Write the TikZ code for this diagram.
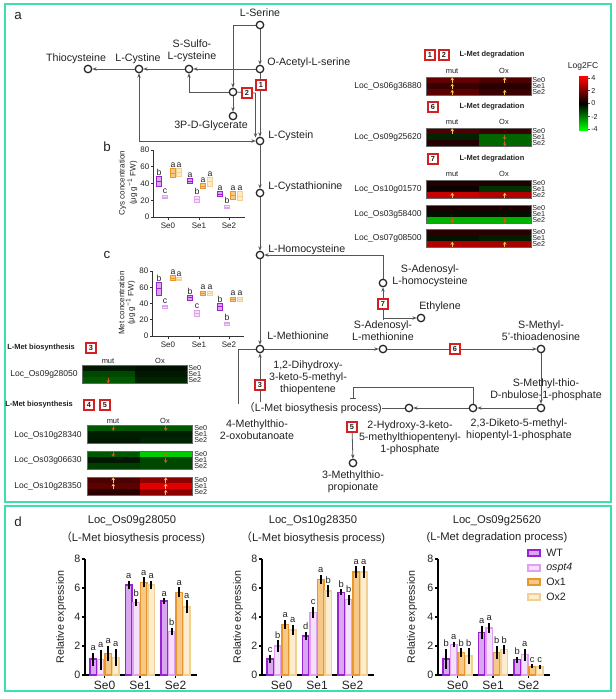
\documentclass[tikz,border=0pt]{standalone}
\usepackage{fontspec}
\setmainfont{Liberation Sans}
\newfontfamily\cjkfont{Noto Sans CJK SC}
\usetikzlibrary{arrows.meta}
\definecolor{frameC}{HTML}{3EDFA8}
\definecolor{wtD}{HTML}{9A22D2}
\definecolor{wtF}{HTML}{D9A6F2}
\definecolor{spD}{HTML}{E0A2F0}
\definecolor{spF}{HTML}{F5E0FB}
\definecolor{oaD}{HTML}{E8962E}
\definecolor{oaF}{HTML}{F7C886}
\definecolor{obD}{HTML}{F2D08F}
\definecolor{obF}{HTML}{FCEDD0}
\definecolor{numC}{HTML}{D42020}
\definecolor{hmUp}{HTML}{F5C850}
\definecolor{hmDn}{HTML}{D4581A}
\definecolor{lineC}{HTML}{555555}
\definecolor{txtC}{HTML}{222222}
\tikzset{
  frame/.style={draw=frameC, line width=1.9pt},
  plabel/.style={font=\fontsize{10}{12}\selectfont, text=txtC, inner sep=0pt},
  met/.style={circle, draw=black!85, line width=0.95pt, minimum size=5.6pt, inner sep=0pt},
  lbl/.style={font=\fontsize{8}{9}\selectfont, text=txtC, inner sep=0pt, align=center},
  conn/.style={draw=lineC, line width=0.6pt},
  arr/.style={conn, -{Stealth[length=3.2pt,width=2.6pt]}},
  arrtwo/.style={conn, {Stealth[length=3.2pt,width=2.6pt]}-{Stealth[length=3.2pt,width=2.6pt]}},
  barend/.style={conn, -{Bar[width=4pt]}},
  num/.style={draw=numC, line width=0.8pt, fill=white, minimum size=7.5pt, inner sep=0pt, font=\fontsize{5.5}{6}\selectfont\bfseries, text=txtC},
  htitle/.style={font=\fontsize{5.6}{6}\selectfont\bfseries, text=txtC, inner sep=0pt},
  hlab/.style={font=\fontsize{6.4}{7}\selectfont, text=txtC, inner sep=0pt},
  hrow/.style={font=\fontsize{5.4}{6}\selectfont, text=txtC, inner sep=0pt},
  hcol/.style={font=\fontsize{5.6}{6}\selectfont, text=txtC, inner sep=0pt},
  hmedge/.style={draw=black!60, line width=0.3pt},
  hua/.style={draw=hmUp, line width=0.65pt, -{Stealth[length=2.2pt,width=2.8pt]}},
  hda/.style={draw=hmDn, line width=0.65pt, -{Stealth[length=2.2pt,width=2.8pt]}},
  saxis/.style={draw=black!80, line width=0.6pt},
  stick/.style={font=\fontsize{6}{7}\selectfont, text=txtC, inner sep=0pt},
  slet/.style={font=\fontsize{6.5}{7}\selectfont, text=txtC, inner sep=0pt},
  daxis/.style={draw=black, line width=0.9pt},
  dtick/.style={font=\fontsize{8}{9}\selectfont, text=txtC, inner sep=0pt},
  dse/.style={font=\fontsize{9}{10}\selectfont, text=txtC, inner sep=0pt},
  dlet/.style={font=\fontsize{7}{8}\selectfont, text=txtC, inner sep=0.5pt},
  dtitle/.style={font=\fontsize{8.4}{10}\selectfont, text=txtC, inner sep=0pt},
  ebar/.style={draw=black, line width=1.2pt},
  bWT/.style={draw=wtD, fill=wtF, line width=1pt},
  bSP/.style={draw=spD, fill=spF, line width=1pt},
  bOA/.style={draw=oaD, fill=oaF, line width=1pt},
  bOB/.style={draw=obD, fill=obF, line width=1pt},
}
\newcommand{\hmap}[8]{%
  \fill[#3] (#1,#2) rectangle (#1+52.5,#2+6.2);
  \fill[#4] (#1+52.5,#2) rectangle (#1+105,#2+6.2);
  \fill[#5] (#1,#2+6.2) rectangle (#1+52.5,#2+12.4);
  \fill[#6] (#1+52.5,#2+6.2) rectangle (#1+105,#2+12.4);
  \fill[#7] (#1,#2+12.4) rectangle (#1+52.5,#2+18.6);
  \fill[#8] (#1+52.5,#2+12.4) rectangle (#1+105,#2+18.6);
  \draw[hmedge] (#1,#2) rectangle (#1+105,#2+18.6);
  \def\hx{#1}\def\hy{#2}}
\newcommand{\hrows}[3]{%
  \node[hrow, anchor=west] (#3r0) at (#1,#2+2.6) {Se0};
  \node[hrow, anchor=west] (#3r1) at (#1,#2+8.8) {Se1};
  \node[hrow, anchor=west] (#3r2) at (#1,#2+15) {Se2};}
\newcommand{\hu}[2]{\draw[hua] (\hx+26.25+52.5*#1,\hy+5.8+6.2*#2) -- (\hx+26.25+52.5*#1,\hy+0.4+6.2*#2);}
\newcommand{\hd}[2]{\draw[hda] (\hx+26.25+52.5*#1,\hy+0.4+6.2*#2) -- (\hx+26.25+52.5*#1,\hy+5.8+6.2*#2);}
\newcommand{\dbar}[6]{%
  \pgfmathsetmacro\yt{675-14.5*#2}%
  \pgfmathsetmacro\ya{675-14.5*(#2+#3)}%
  \pgfmathsetmacro\yb{675-14.5*(#2-#3)}%
  \filldraw[#4] (#1-3.3,675) rectangle (#1+3.3,\yt);
  \draw[ebar] (#1,\yb) -- (#1,\ya);
  \node[dlet, anchor=south] (#6) at (#1,\ya-1) {#5};}
\newcommand{\daxes}[3]{%
  \draw[daxis] (#1,559) -- (#1,675) -- (#1+112,675);
  \foreach \v in {0,2,4,6,8} {\pgfmathsetmacro\yy{675-14.5*\v}
    \draw[daxis] (#1,\yy) -- (#1-3,\yy);
    \node[dtick, anchor=east] (#2t\v) at (#1-4.5,\yy) {\v};}
  \foreach \o/\t in {19.5/Se0,55/Se1,90.5/Se2} {
    \draw[daxis] (#1+\o,675) -- (#1+\o,678);
    \node[dse] (#2\t) at (#1+\o,685) {\t};}
  \node[dtick, rotate=90] (#2yl) at (#3,617) {Relative expression};}
\begin{document}
\begin{tikzpicture}[x=0.75pt,y=-0.75pt]
\useasboundingbox (0,0) rectangle (615,699);
\fill[white] (0,0) rectangle (615,699);
\draw[frame] (5,4) rectangle (611,502);
\draw[frame] (5,506) rectangle (611,691);
\node[plabel] (pa) at (18,16) {a};
\node[plabel] (pb) at (107,147) {b};
\node[plabel] (pc) at (107,255) {c};
\node[plabel] (pd) at (18,522) {d};

% ---------- pathway ----------
\node[met] (SER) at (260,25) {};
\node[met] (OAS) at (260,69) {};
\node[met] (C2) at (233,92) {};
\node[met] (SSC) at (189,69) {};
\node[met] (CYS2) at (139,69) {};
\node[met] (THIO) at (88,69) {};
\node[met] (G3P) at (233,116) {};
\node[met] (CYST) at (260,141) {};
\node[met] (CYSTA) at (260,193) {};
\node[met] (HCY) at (260,255) {};
\node[met] (SAH) at (383,283) {};
\node[met] (MET) at (260,349) {};
\node[met] (SAM) at (383,349) {};
\node[met] (MTA) at (541,349) {};
\node[met] (MTRu) at (541,408) {};
\node[met] (DK) at (473,408) {};
\node[met] (C3) at (409,408) {};
\node[met] (MTP) at (353,463) {};
\node[met] (ETH) at (421,318) {};

\node[lbl] (tSER) at (260,13) {L-Serine};
\node[lbl, anchor=west] (tOAS) at (267,63) {O-Acetyl-L-serine};
\node[lbl] (tSSC) at (192,51) {S-Sulfo-\\L-cysteine};
\node[lbl] (tCYS2) at (138,59) {L-Cystine};
\node[lbl] (tTHIO) at (76,59) {Thiocysteine};
\node[lbl] (tG3P) at (211,126) {3P-D-Glycerate};
\node[lbl, anchor=west] (tCYST) at (268,136) {L-Cystein};
\node[lbl, anchor=west] (tCYSTA) at (268,187) {L-Cystathionine};
\node[lbl, anchor=west] (tHCY) at (268,250) {L-Homocysteine};
\node[lbl] (tSAH) at (430,276) {S-Adenosyl-\\L-homocysteine};
\node[lbl] (tSAM) at (383,330.5) {S-Adenosyl-\\L-methionine};
\node[lbl, anchor=west] (tMET) at (267,336) {L-Methionine};
\node[lbl] (tETH) at (440,307) {Ethylene};
\node[lbl] (tMTA) at (541,330.5) {S-Methyl-\\5'-thioadenosine};
\node[lbl] (tMTRu) at (546,390) {S-Methyl-thio-\\D-nbulose-1-phosphate};
\node[lbl] (tDK) at (519,430) {2,3-Diketo-5-methyl-\\hiopentyl-1-phosphate};
\node[lbl] (tDHK) at (308,378) {1,2-Dihydroxy-\\3-keto-5-methyl-\\thiopentene};
\node[lbl] (tMOB) at (257,429.5) {4-Methylthio-\\2-oxobutanoate};
\node[lbl] (tPROC) at (313,408) {{\cjkfont （}L-Met biosythesis process)};
\node[lbl] (tHK) at (410,438) {2-Hydroxy-3-keto-\\5-methylthiopentenyl-\\1-phosphate};
\node[lbl] (tMTP) at (353,481.5) {3-Methylthio-\\propionate};

\coordinate (J1) at (255.5,93);
\coordinate (J2) at (255.5,137.5);
\coordinate (K2) at (353,387);
\coordinate (K3) at (353,399);
\coordinate (M1) at (238,404);
\coordinate (E1) at (383,318);

\draw[arr] (SER) -- (OAS);
\draw[arr] (SER) -| (C2);
\draw[arr] (OAS) -- (SSC);
\draw[arr] (SSC) -- (CYS2);
\draw[arr] (CYS2) -- (THIO);
\draw[arr] (C2) -| (SSC);
\draw[arr] (C2) -- (G3P);
\draw[arr] (OAS) -- (CYST);
\draw[arr] (C2) -- (J1) -- (J2);
\draw[arrtwo] (CYS2) |- (CYST);
\draw[arr] (CYST) -- (CYSTA);
\draw[arr] (CYSTA) -- (HCY);
\draw[arr] (HCY) -- (MET);
\draw[arr] (SAH) |- (HCY);
\draw[arr] (tSAM.north) -- (SAH);
\draw[arr] (E1) -- (ETH);
\draw[arr] (MET) -- (SAM);
\draw[arr] (SAM) -- (MTA);
\draw[arr] (MTA) -- (MTRu);
\draw[arr] (MTRu) -- (DK);
\draw[arr] (DK) -- (C3);
\draw[conn] (C3) -- (tPROC.east);
\draw[barend] (DK) |- (K2) -- (K3);
\draw[arr] (tPROC.north -| MET) -- (MET);
\draw[conn] (MET) -| (M1);

\node[num] (B1) at (261,85) {1};
\node[num] (B2) at (247,93) {2};
\node[num] (B3) at (260,385) {3};
\node[num] (B5) at (352,427) {5};
\node[num] (B6) at (455,349) {6};
\node[num] (B7) at (383,304) {7};
\draw[arr] (B5) -- (MTP);

% ---------- right heatmaps ----------
\node[num] (hb1) at (430,55) {1};
\node[num] (hb2) at (444,55) {2};
\node[htitle] (ht1) at (492,55) {L-Met degradation};
\node[hcol] (hm1) at (452,71) {mut};
\node[hcol] (ho1) at (504,71) {Ox};
\hmap{426}{77}{red!38!black}{red!30!black}{red!22!black}{red!16!black}{red!36!black}{red!22!black}
\hu{0}{0}\hu{0}{1}\hu{0}{2}\hu{1}{0}\hu{1}{2}
\hrows{532}{77}{hA}
\node[hlab, anchor=east] (g1) at (422,86) {Loc\_Os06g36880};

\node[num] (hb6) at (433,107) {6};
\node[htitle] (ht2) at (492,107) {L-Met degradation};
\node[hcol] (hm2) at (452,122) {mut};
\node[hcol] (ho2) at (504,122) {Ox};
\hmap{426}{128}{red!30!black}{red!24!black}{green!14!black}{green!40!black}{red!15!black}{green!40!black}
\hu{0}{0}\hd{1}{1}\hd{1}{2}
\hrows{532}{128}{hB}
\node[hlab, anchor=east] (g2) at (422,137) {Loc\_Os09g25620};

\node[num] (hb7) at (433,159) {7};
\node[htitle] (ht3) at (492,159) {L-Met degradation};
\node[hcol] (hm3) at (452,174) {mut};
\node[hcol] (ho3) at (504,174) {Ox};
\hmap{426}{180}{red!12!black}{red!12!black}{red!5!black}{green!20!black}{red!78!black}{red!70!black}
\hu{0}{2}\hu{1}{2}
\hrows{532}{180}{hC}
\node[hlab, anchor=east] (g3) at (422,189) {Loc\_Os10g01570};
\hmap{426}{205}{red!10!black}{red!10!black}{green!6!black}{green!6!black}{green!70!black}{green!70!black}
\hd{0}{2}\hd{1}{2}
\hrows{532}{205}{hD}
\node[hlab, anchor=east] (g4) at (422,214) {Loc\_Os03g58400};
\hmap{426}{229}{red!16!black}{red!16!black}{green!8!black}{green!12!black}{red!70!black}{red!65!black}
\hu{0}{2}\hu{1}{2}
\hrows{532}{229}{hE}
\node[hlab, anchor=east] (g5) at (422,238) {Loc\_Os07g08500};

% colour bar
\node[hlab] (cbt) at (583,66) {Log2FC};
\shade[top color=red, bottom color=black] (579,77) rectangle (588,103.5);
\shade[top color=black, bottom color=green] (579,103.5) rectangle (588,130);
\foreach \v/\yy in {4/78,2/90.5,0/103.5,-2/116.5,-4/129} {
  \draw[draw=black!70, line width=0.3pt] (588,\yy) -- (590,\yy);
  \node[hrow, anchor=west] (cb\v) at (591,\yy) {\v};}

% ---------- left heatmaps ----------
\node[htitle, anchor=west] (lt1) at (7,348) {L-Met biosynthesis};
\node[num] (lb3) at (91,348) {3};
\node[hcol] (hm6) at (108,361) {mut};
\node[hcol] (ho6) at (160,361) {Ox};
\hmap{82}{365}{green!10!black}{green!6!black}{green!28!black}{green!10!black}{green!35!black}{green!14!black}
\hd{0}{2}
\hrows{188}{365}{hF}
\node[hlab, anchor=east] (g6) at (78,374) {Loc\_Os09g28050};

\node[htitle, anchor=west] (lt2) at (5,405) {L-Met biosynthesis};
\node[num] (lb4) at (89,405) {4};
\node[num] (lb5) at (105,405) {5};
\node[hcol] (hm7) at (113,421) {mut};
\node[hcol] (ho7) at (165,421) {Ox};
\hmap{87}{425}{green!35!black}{green!35!black}{green!12!black}{green!12!black}{green!10!black}{green!14!black}
\hd{0}{0}\hd{1}{0}
\hrows{194}{425}{hG}
\node[hlab, anchor=east] (g7) at (82,435) {Loc\_Os10g28340};
\hmap{87}{451}{green!35!black}{green!80!black}{green!10!black}{green!28!black}{green!24!black}{green!28!black}
\hd{0}{0}\hd{1}{0}\hd{1}{1}
\hrows{194}{451}{hH}
\node[hlab, anchor=east] (g8) at (82,460) {Loc\_Os03g06630};
\hmap{87}{477}{red!30!black}{red!55!black}{red!36!black}{red!88!black}{red!16!black}{red!55!black}
\hu{0}{0}\hu{0}{1}\hu{1}{0}\hu{1}{1}\hu{1}{2}
\hrows{194}{477}{hI}
\node[hlab, anchor=east] (g9) at (82,486) {Loc\_Os10g28350};

% ---------- chart b ----------
\draw[saxis] (153,150) -- (153,217) -- (245,217);
\foreach \v in {0,20,40,60,80} {\pgfmathsetmacro\yy{217-0.8375*\v}
  \draw[saxis] (153,\yy) -- (150.5,\yy);
  \node[stick, anchor=east] (bt\v) at (149.5,\yy) {\v};}
\foreach \xx/\t in {168/Se0,199/Se1,229/Se2} {
  \draw[saxis] (\xx,217) -- (\xx,219.5);
  \node[stick] (bx\t) at (\xx,226) {\t};}
\node[stick, rotate=90, align=center] (byl) at (128,183) {Cys concentration\\(μg g\textsuperscript{−1} FW)};
\foreach \xx/\lo/\hi/\st/\lt [count=\k] in {159/36/48/bWT/b, 165/22/26/bSP/c, 173/47/58/bOA/a, 179/48/58/bOB/a, 190/40/46/bWT/a, 197/18/25/bSP/b, 203/34/40/bOA/a, 210/37/47/bOB/a, 220/25/30/bWT/a, 227/10/14/bSP/b, 233/21/30/bOA/a, 240/20/30/bOB/a} {
  \pgfmathsetmacro\ya{217-0.8375*\lo}
  \pgfmathsetmacro\yb{217-0.8375*\hi}
  \pgfmathsetmacro\ym{(\ya+\yb)/2}
  \filldraw[\st, line width=0.6pt] (\xx-2.6,\ya) rectangle (\xx+2.6,\yb);
  \draw[\st, line width=0.6pt] (\xx-2.6,\ym) -- (\xx+2.6,\ym);
  \node[slet, anchor=south] (bl\k) at (\xx,\yb-1) {\lt};}

% ---------- chart c ----------
\draw[saxis] (152,271) -- (152,336) -- (244,336);
\foreach \v in {0,20,40,60,80} {\pgfmathsetmacro\yy{336-0.8125*\v}
  \draw[saxis] (152,\yy) -- (149.5,\yy);
  \node[stick, anchor=east] (ct\v) at (148.5,\yy) {\v};}
\foreach \xx/\t in {168/Se0,199/Se1,229/Se2} {
  \draw[saxis] (\xx,336) -- (\xx,338.5);
  \node[stick] (cx\t) at (\xx,345) {\t};}
\node[stick, rotate=90, align=center] (cyl) at (127,303) {Met concentration\\(μg g\textsuperscript{−1} FW)};
\foreach \xx/\lo/\hi/\st/\lt [count=\k] in {159/50/66/bWT/b, 165/34/38/bSP/c, 173/68/74/bOA/a, 179/68/72/bOB/a, 190/44/50/bWT/b, 197/24/32/bSP/c, 203/50/55/bOA/a, 210/50/55/bOB/a, 220/32/40/bWT/b, 227/13/17/bSP/b, 233/42/48/bOA/a, 240/42/48/bOB/a} {
  \pgfmathsetmacro\ya{336-0.8125*\lo}
  \pgfmathsetmacro\yb{336-0.8125*\hi}
  \pgfmathsetmacro\ym{(\ya+\yb)/2}
  \filldraw[\st, line width=0.6pt] (\xx-2.6,\ya) rectangle (\xx+2.6,\yb);
  \draw[\st, line width=0.6pt] (\xx-2.6,\ym) -- (\xx+2.6,\ym);
  \node[slet, anchor=south] (cl\k) at (\xx,\yb-1) {\lt};}

% ---------- panel d ----------
\node[dtitle] (d1t) at (132,521) {Loc\_Os09g28050};
\node[dtitle] (d1s) at (133,538) {{\cjkfont （}L-Met biosythesis process)};
\node[dtitle] (d2t) at (313,521) {Loc\_Os10g28350};
\node[dtitle] (d2s) at (313,538) {{\cjkfont （}L-Met biosythesis process)};
\node[dtitle] (d3t) at (497,521) {Loc\_Os09g25620};
\node[dtitle] (d3s) at (497,538) {(L-Met degradation process)};
\daxes{85}{dA}{61}
\daxes{262}{dB}{238}
\daxes{438}{dC}{412}
\foreach \cx/\va/\ea/\la/\vb/\eb/\lb/\vc/\ec/\lc/\vd/\ed/\ld [count=\k] in {
  104.5/1.1/0.45/a/1.05/0.7/a/1.5/0.5/a/1.2/0.6/a,
  140/6.2/0.3/a/5.0/0.25/b/6.4/0.35/a/6.2/0.3/a,
  175.5/5.1/0.2/a/3.0/0.25/b/5.7/0.35/a/4.7/0.45/a,
  281.5/1.1/0.3/c/2.0/0.4/b/3.5/0.3/a/3.1/0.35/a,
  317/2.7/0.3/d/4.3/0.4/c/6.6/0.3/a/5.8/0.4/b,
  352.5/5.7/0.2/b/5.2/0.35/b/7.1/0.4/a/7.1/0.4/a,
  457.5/1.1/0.7/b/2.1/0.2/a/1.55/0.3/b/1.3/0.55/b,
  493/2.95/0.45/a/3.25/0.35/a/1.55/0.45/b/1.75/0.3/b,
  528.5/1.05/0.2/b/1.4/0.4/a/0.6/0.15/c/0.55/0.15/c} {
  \dbar{\cx-11.25}{\va}{\ea}{bWT}{\la}{dl\k a}
  \dbar{\cx-3.75}{\vb}{\eb}{bSP}{\lb}{dl\k b}
  \dbar{\cx+3.75}{\vc}{\ec}{bOA}{\lc}{dl\k c}
  \dbar{\cx+11.25}{\vd}{\ed}{bOB}{\ld}{dl\k d}}
% legend
\foreach \st/\t/\yy/\n in {bWT/WT/553/la, bSP/{\itshape ospt4}/568/lb, bOA/Ox1/582/lc, bOB/Ox2/597/ld} {
  \filldraw[\st] (528,\yy-3) rectangle (540,\yy+3);
  \node[dtick, anchor=west] (\n) at (546,\yy) {\t};}
\end{tikzpicture}
\end{document}
